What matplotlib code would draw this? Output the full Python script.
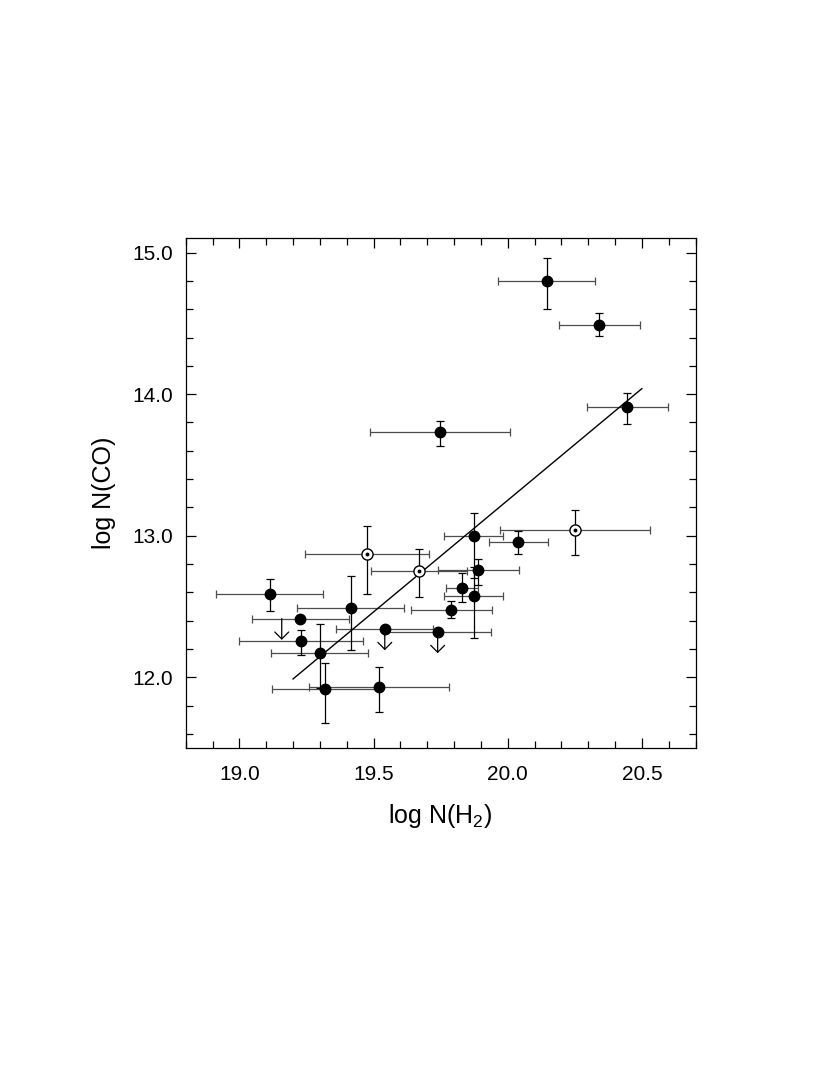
import matplotlib.pyplot as plt
from matplotlib.ticker import MultipleLocator

plt.rcParams['font.family'] = ['Liberation Sans', 'DejaVu Sans']
plt.rcParams['mathtext.fontset'] = 'custom'
plt.rcParams['mathtext.rm'] = 'Liberation Sans'

# detections (filled circles)
det_x = [20.145, 20.342, 20.446, 19.748, 19.113, 19.415, 19.227, 19.229, 19.299,
         19.320, 19.520, 19.873, 20.040, 19.891, 19.830, 19.873, 19.790]
det_y = [14.80, 14.49, 13.91, 13.733, 12.591, 12.492, 12.414, 12.254, 12.174,
         11.918, 11.934, 13.00, 12.953, 12.755, 12.633, 12.576, 12.475]
det_xerr = [0.18, 0.15, 0.15, 0.26, 0.20, 0.20, 0.18, 0.23, 0.18,
            0.20, 0.26, 0.11, 0.11, 0.15, 0.06, 0.11, 0.15]
det_ylo = [0.20, 0.08, 0.12, 0.10, 0.12, 0.30, 0.0, 0.10, 0.25,
           0.24, 0.18, 0.30, 0.08, 0.10, 0.10, 0.30, 0.06]
det_yhi = [0.16, 0.08, 0.10, 0.08, 0.10, 0.22, 0.0, 0.08, 0.20,
           0.18, 0.14, 0.16, 0.08, 0.08, 0.10, 0.20, 0.06]

# upper limits drawn with a marker and a downward arrow
lim_x = [19.542, 19.739]
lim_y = [12.341, 12.320]
lim_xerr = [0.18, 0.20]

# upper limit with arrow only
arr_x = [19.158]
arr_y = [12.414]

# open circles with central dot
open_x = [19.476, 19.670, 20.252]
open_y = [12.868, 12.748, 13.040]
open_xerr = [0.23, 0.18, 0.28]
open_ylo = [0.28, 0.18, 0.18]
open_yhi = [0.20, 0.16, 0.14]

# linear fit
fit_x = [19.2, 20.5]
fit_slope = 1.578
fit_icpt = -18.31

fig = plt.figure(figsize=(8.3, 10.87), dpi=100)
ax = fig.add_axes([0.2237, 0.3119, 0.6143, 0.4687])

ebk = dict(fmt='none', elinewidth=0.9, capsize=3.2, capthick=0.9)
ax.errorbar(det_x, det_y, xerr=det_xerr, ecolor='0.3', **ebk)
ax.errorbar(lim_x, lim_y, xerr=lim_xerr, ecolor='0.3', **ebk)
ax.errorbar(open_x, open_y, xerr=open_xerr, ecolor='0.3', **ebk)
ax.errorbar(det_x, det_y, yerr=[det_ylo, det_yhi], ecolor='black', **ebk)
ax.errorbar(open_x, open_y, yerr=[open_ylo, open_yhi], ecolor='black', **ebk)

ax.plot(fit_x, [fit_slope * v + fit_icpt for v in fit_x], color='black', lw=1.0)

ax.plot(det_x, det_y, 'o', ms=7.5, color='black', zorder=5)
ax.plot(lim_x, lim_y, 'o', ms=7.5, color='black', zorder=5)
ax.plot(open_x, open_y, 'o', ms=8, mfc='white', mec='black', mew=1.0, zorder=5)
ax.plot(open_x, open_y, 'o', ms=1.8, color='black', zorder=6)

arrow_len = 0.15
for xx, yy in zip(lim_x + arr_x, lim_y + arr_y):
    ax.annotate('', xy=(xx, yy - arrow_len), xytext=(xx, yy),
                arrowprops=dict(arrowstyle='->,head_length=0.5,head_width=0.5',
                                lw=0.9, color='black', mutation_scale=10,
                                shrinkA=0, shrinkB=0))

ax.set_xlim(18.8, 20.7)
ax.set_ylim(11.5, 15.1)
ax.xaxis.set_major_locator(MultipleLocator(0.5))
ax.xaxis.set_minor_locator(MultipleLocator(0.1))
ax.yaxis.set_major_locator(MultipleLocator(1.0))
ax.yaxis.set_minor_locator(MultipleLocator(0.2))
ax.xaxis.set_major_formatter(plt.FormatStrFormatter('%.1f'))
ax.yaxis.set_major_formatter(plt.FormatStrFormatter('%.1f'))
ax.tick_params(which='both', direction='in', top=True, right=True, width=0.9)
ax.tick_params(which='major', length=7.2, labelsize=15, pad=9)
ax.tick_params(axis='x', which='major', pad=12)
ax.tick_params(which='minor', length=5)
for s in ax.spines.values():
    s.set_linewidth(0.9)

ax.set_xlabel('log N(H$_2$)', fontsize=18, labelpad=13)
ax.set_ylabel('log N(CO)', fontsize=18, labelpad=12)

fig.savefig('out.png', dpi=100)
